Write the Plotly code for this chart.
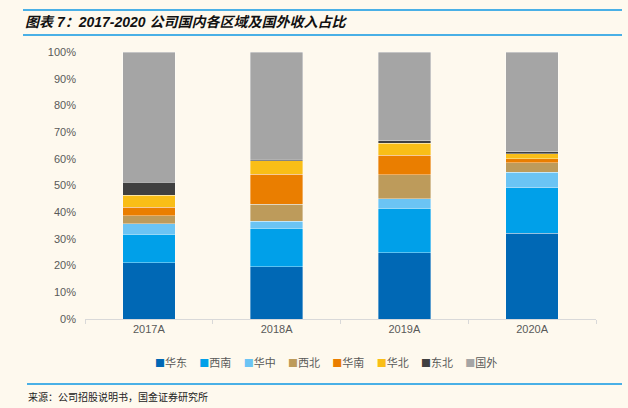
import plotly.graph_objects as go

categories = ["2017A", "2018A", "2019A", "2020A"]
series_names = ["华东", "西南", "华中", "西北", "华南", "华北", "东北", "国外"]
huadong = [21.1, 19.6, 24.8, 32.2]
xinan = [10.6, 14.4, 16.7, 17.0]
huazhong = [4.0, 2.7, 3.6, 5.7]
xibei = [3.0, 6.3, 8.9, 3.6]
huanan = [3.1, 11.3, 7.3, 1.5]
huabei = [4.6, 4.9, 4.5, 1.9]
dongbei = [4.9, 0.7, 0.9, 0.8]
guowai = [48.7, 40.1, 33.3, 37.3]
series_values = [huadong, xinan, huazhong, xibei, huanan, huabei, dongbei, guowai]
colors = ["#0068B5", "#00A0E9", "#6BC4F4", "#BD9B5B", "#EA7E00", "#F9BE17", "#404040", "#A5A5A5"]
y_ticks = [0, 10, 20, 30, 40, 50, 60, 70, 80, 90, 100]
y_tick_labels = [f"{v}%" for v in y_ticks]

bg = "#FEF9EE"
font_family = "Liberation Sans, Noto Sans CJK SC, sans-serif"

fig = go.Figure()
for name, vals, c in zip(series_names, series_values, colors):
    fig.add_trace(go.Bar(
        x=categories, y=vals, name=name,
        marker=dict(color=c, line=dict(color="rgba(255,255,255,0.6)", width=0.6)),
    ))

fig.update_layout(
    barmode="stack",
    bargap=0.59,
    width=628, height=408,
    paper_bgcolor=bg, plot_bgcolor=bg,
    margin=dict(l=85, r=32, t=52, b=89, autoexpand=False),
    font=dict(family=font_family, size=11, color="#595959"),
    showlegend=False,
    xaxis=dict(type="category", showline=True, linecolor="#D9D9D9", linewidth=1,
               ticks="outside", tickson="boundaries", ticklen=4, tickcolor="#D9D9D9",
               tickfont=dict(size=11, color="#595959"), showgrid=False),
    yaxis=dict(range=[0, 100], tickvals=y_ticks, ticktext=y_tick_labels, showgrid=False,
               zeroline=False, showline=False, ticks="", ticklabelstandoff=8,
               tickfont=dict(size=11, color="#595959")),
)

# legend as a compact text row built from series names and colours
legend_text = "&nbsp;&nbsp;&nbsp;&nbsp;&nbsp;".join(
    f"<span style='color:{c};font-size:10px'>■</span>{n}" for n, c in zip(series_names, colors)
)
fig.add_annotation(xref="paper", yref="paper", x=(326 - 85) / 511, y=(319 - 362) / 267,
                   xanchor="center", yanchor="middle", showarrow=False, text=legend_text,
                   font=dict(family="Noto Sans CJK SC, sans-serif", size=11, color="#595959"))

line_color = "#4AB0E6"
for yp in [(319 - 10) / 267, (319 - 35) / 267]:
    fig.add_shape(type="line", xref="paper", yref="paper",
                  x0=(23 - 85) / 511, x1=(622 - 85) / 511, y0=yp, y1=yp,
                  line=dict(color=line_color, width=2))
fig.add_shape(type="line", xref="paper", yref="paper",
              x0=(27 - 85) / 511, x1=(622 - 85) / 511, y0=(319 - 384) / 267, y1=(319 - 384) / 267,
              line=dict(color=line_color, width=2))

fig.add_annotation(xref="paper", yref="paper", x=(23 - 85) / 511, y=(319 - 22) / 267,
                   xanchor="left", yanchor="middle", showarrow=False,
                   text="<b><i>图表 7：2017-2020 公司国内各区域及国外收入占比</i></b>",
                   font=dict(family="Liberation Sans, Noto Sans CJK SC", size=14, color="#111111"))
fig.add_annotation(xref="paper", yref="paper", x=(26 - 85) / 511, y=(319 - 396) / 267,
                   xanchor="left", yanchor="middle", showarrow=False,
                   text="来源：公司招股说明书，国金证券研究所",
                   font=dict(family="Noto Sans CJK SC", size=10, color="#222222"))

fig.write_html("out.html", config={"displayModeBar": False},
               post_script="document.body.style.margin='0';document.body.style.background='%s';" % bg)
